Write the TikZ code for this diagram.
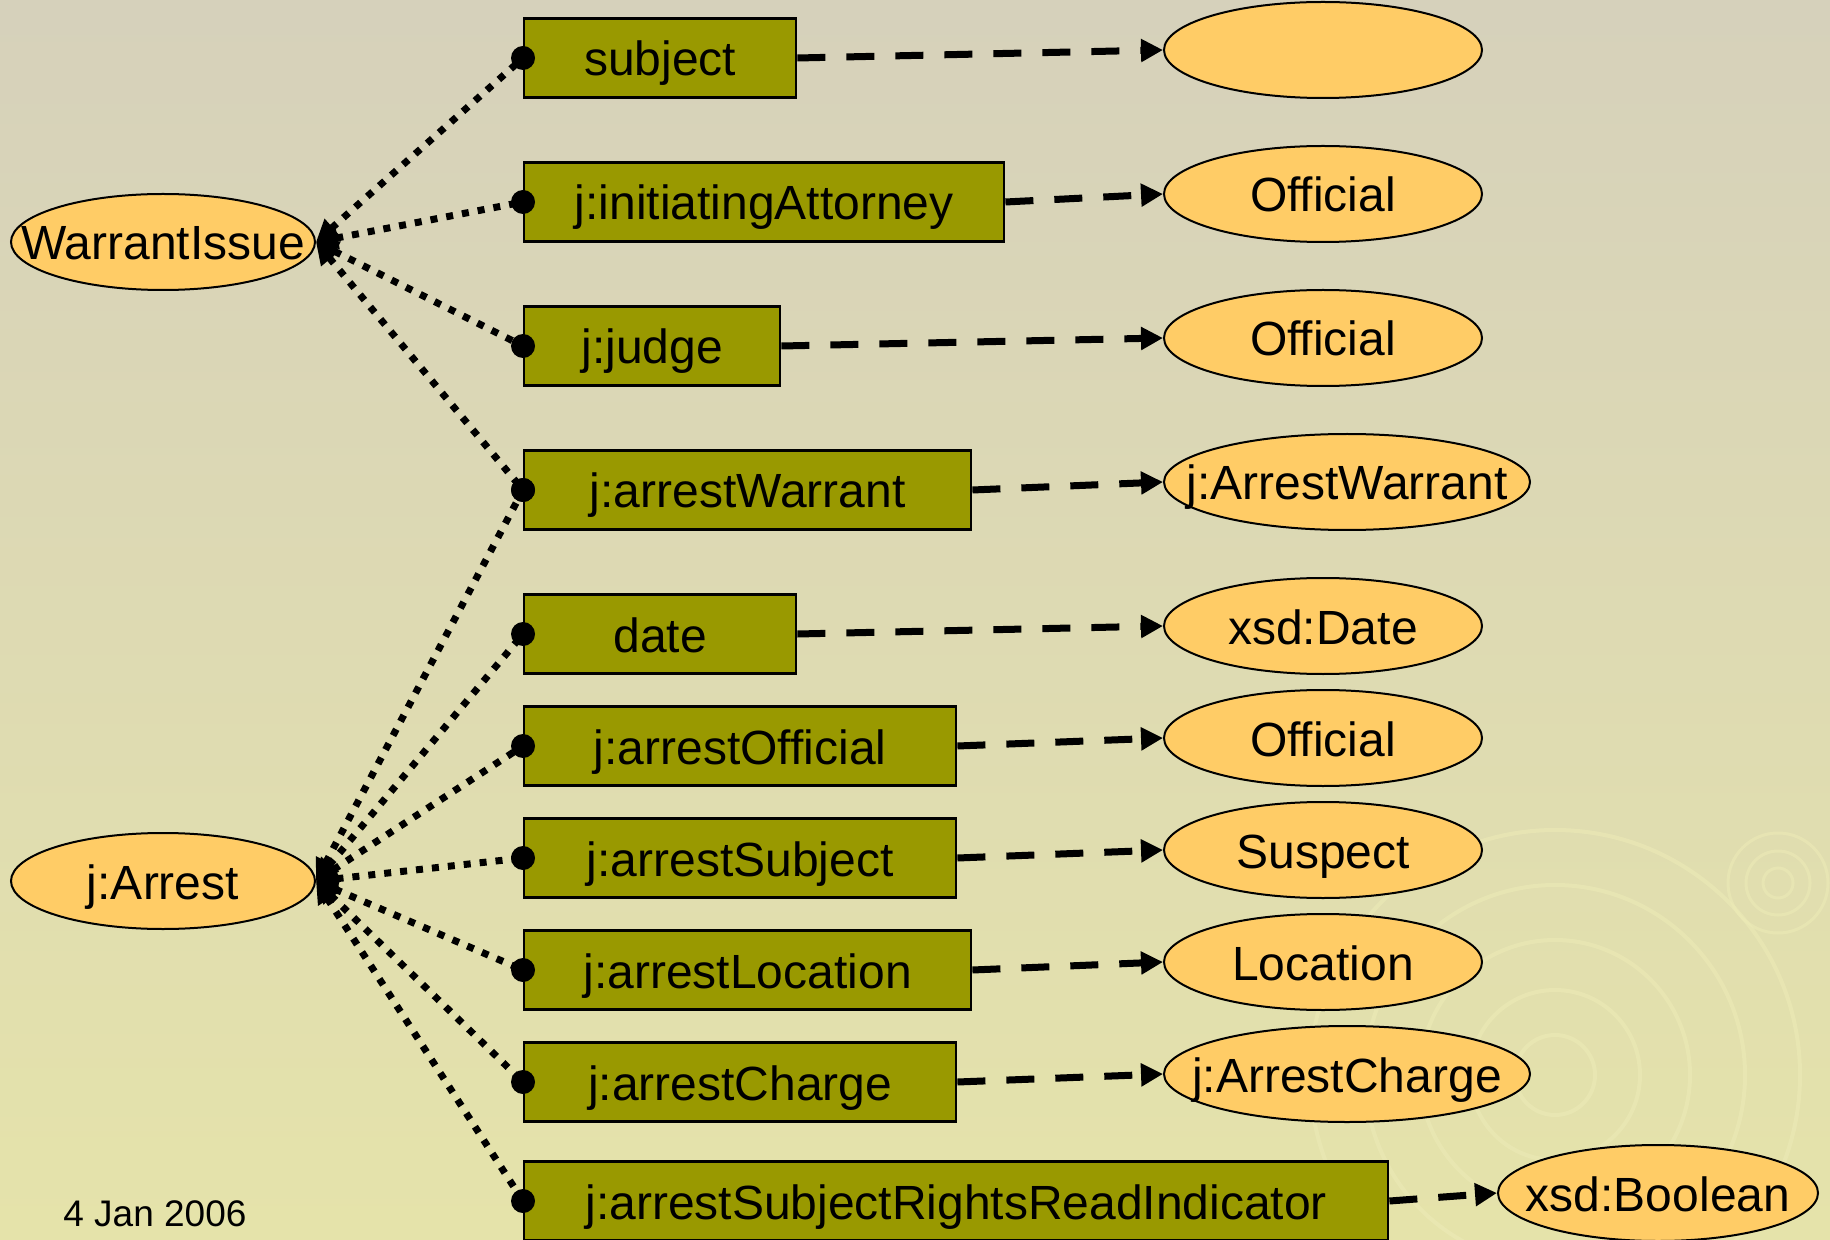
\documentclass[tikz,border=0pt]{standalone}
\usepackage{fontspec}
\setmainfont{Liberation Sans}
\usetikzlibrary{shapes.geometric,arrows.meta}
\definecolor{propcol}{RGB}{153,153,0}
\definecolor{classcol}{RGB}{255,204,102}
\definecolor{bgtop}{RGB}{214,209,187}
\definecolor{bgmid}{RGB}{219,215,181}
\definecolor{bgbot}{RGB}{229,227,170}
\definecolor{ripple}{RGB}{236,234,182}
\newcommand{\cl}[1]{\makebox[0pt]{#1}}
\begin{document}
\begin{tikzpicture}
  [x=0.5pt,y=-0.5pt,every node/.style={font=\fontsize{24}{28}\selectfont,text height=20pt,text depth=2pt}]
  \tikzstyle{prop} = [rectangle,draw,line width=1.2pt,fill=propcol,anchor=west,minimum height=39.5pt,inner sep=0pt]
  \tikzstyle{cls} = [ellipse,draw,line width=1pt,fill=classcol,minimum width=159pt,minimum height=48pt,inner sep=0pt]
  \tikzstyle{knob} = [circle,fill,inner sep=0pt,minimum size=12pt,text height=,text depth=]
  \tikzstyle{rangeline} = [line width=3.5pt,dash pattern=on 14pt off 10.5pt,-{Triangle[length=11pt,width=11pt]}]
  \tikzstyle{propline} = [line width=3.5pt,dash pattern=on 3.5pt off 4.5pt,{Triangle[length=11pt,width=11pt]}-]

  % background
  \shade[top color=bgtop,middle color=bgmid,bottom color=bgbot] (0,0) rectangle (1830,1240);
  \useasboundingbox (0,0) rectangle (1830,1240);
  \fill[ripple,opacity=.7] (805,1235) circle (70);
  \foreach \r in {40,85,135,190,245}
    \draw[ripple,opacity=.6,line width=2pt] (1555,1075) circle (\r);
  \foreach \r in {15,32,50}
    \draw[ripple,opacity=.6,line width=1.5pt] (1778,883) circle (\r);

  % classes
  \node[cls,minimum width=152pt] (wi) at (163,242) {\cl{WarrantIssue}};
  \node[cls,minimum width=152pt] (ar) at (163,881) {\cl{j:Arrest}};

  \node[cls] (r0) at (1323,50)  {};
  \node[cls] (r1) at (1323,194) {\cl{Official}};
  \node[cls] (r2) at (1323,338) {\cl{Official}};
  \node[cls,minimum width=183pt] (r3) at (1347,482) {\cl{j:ArrestWarrant}};
  \node[cls] (r4) at (1323,626) {\cl{xsd:Date}};
  \node[cls] (r5) at (1323,738) {\cl{Official}};
  \node[cls] (r6) at (1323,850) {\cl{Suspect}};
  \node[cls] (r7) at (1323,962) {\cl{Location}};
  \node[cls,minimum width=183pt] (r8) at (1347,1074) {\cl{j:ArrestCharge}};
  \node[cls,minimum width=160pt] (r9) at (1658,1193) {\cl{xsd:Boolean}};

  % properties
  \node[prop,minimum width=136pt] (p0) at (523,58)  {subject};
  \node[prop,minimum width=240pt] (p1) at (523,202) {j:initiatingAttorney};
  \node[prop,minimum width=128pt] (p2) at (523,346) {j:judge};
  \node[prop,minimum width=223.5pt] (p3) at (523,490) {j:arrestWarrant};
  \node[prop,minimum width=136pt] (p4) at (523,634) {date};
  \node[prop,minimum width=216pt] (p5) at (523,746) {j:arrestOfficial};
  \node[prop,minimum width=216pt] (p6) at (523,858) {j:arrestSubject};
  \node[prop,minimum width=223.5pt] (p7) at (523,970) {j:arrestLocation};
  \node[prop,minimum width=216pt] (p8) at (523,1082) {j:arrestCharge};
  \node[prop,minimum width=432pt] (p9) at (523,1201) {j:arrestSubjectRightsReadIndicator};

  \node[anchor=west,inner sep=0pt,font=\fontsize{18.5}{22}\selectfont,text height=,text depth=] (day) at (63,1214) {4 Jan 2006};

\foreach \source /\dest in {p0/r0,p1/r1,p2/r2,p3/r3,p4/r4,p5/r5,p6/r6,p7/r7,p8/r8,p9/r9}
   \draw[rangeline] (\source.east) -- (\dest.west);
\foreach \source /\dest in {wi/p0,wi/p1,wi/p2,wi/p3,ar/p3,ar/p4,ar/p5,ar/p6,ar/p7,ar/p8,ar/p9}
   \draw[propline] (\source.east) -- (\dest.west) node[knob] {};

\end{tikzpicture}
\end{document}
